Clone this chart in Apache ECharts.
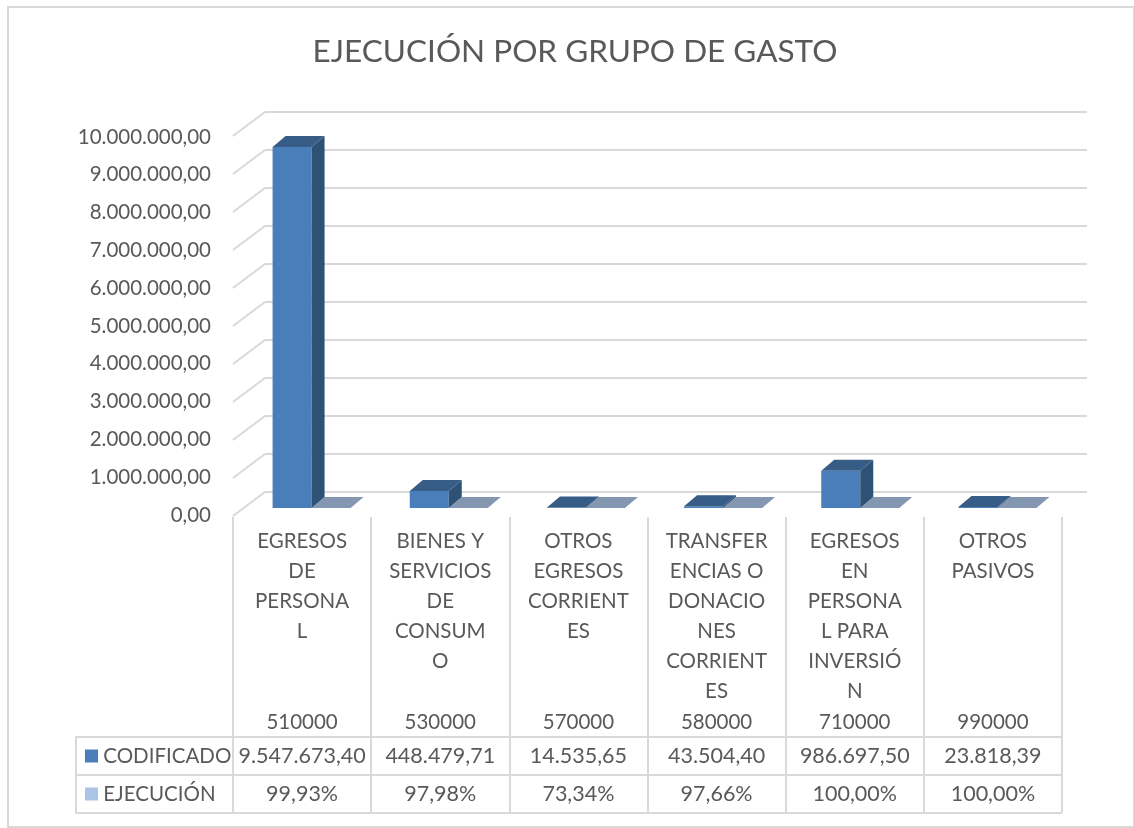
<!DOCTYPE html>
<html>
<head>
<meta charset="utf-8">
<script src="https://cdn.jsdelivr.net/npm/echarts@6/dist/echarts.min.js"></script>
<style>
  html, body { margin: 0; padding: 0; background: #fff; }
  #chart { position: absolute; left: 0; top: 0; width: 1134px; height: 828px; }
  #frame { position: absolute; left: 7px; top: 6px; width: 1124px; height: 818px; border: 2px solid #d9d9d9; pointer-events: none; }
</style>
</head>
<body>
<div id="chart"></div>
<div id="frame"></div>
<script>
// datos de la tabla
const categorias = [
  'EGRESOS\nDE\nPERSONA\nL',
  'BIENES Y\nSERVICIOS\nDE\nCONSUM\nO',
  'OTROS\nEGRESOS\nCORRIENT\nES',
  'TRANSFER\nENCIAS O\nDONACIO\nNES\nCORRIENT\nES',
  'EGRESOS\nEN\nPERSONA\nL PARA\nINVERSIÓ\nN',
  'OTROS\nPASIVOS'
];
const codigos = ['510000', '530000', '570000', '580000', '710000', '990000'];
const codificado = [9547673.40, 448479.71, 14535.65, 43504.40, 986697.50, 23818.39];
const ejecucion = [99.93, 97.98, 73.34, 97.66, 100.00, 100.00]; // en %
const yTicks = [0, 1000000, 2000000, 3000000, 4000000, 5000000, 6000000, 7000000, 8000000, 9000000, 10000000];
const filas = ['CODIFICADO', 'EJECUCIÓN'];

const FONT = 'Lato, "Open Sans", sans-serif';
const GRIS = '#595959';
const LINEA = '#d9d9d9';

// formato es-EC: 1.234.567,89
const fmt = (v, d) => {
  const parts = v.toFixed(d).split('.');
  parts[0] = parts[0].replace(/\B(?=(\d{3})+(?!\d))/g, '.');
  return parts.join(',');
};

const chart = echarts.init(document.getElementById('chart'));

// barra 3D: cara frontal, lateral y superior
const barra3d = (lado, cFrente, cLado, cArriba) => (params, api) => {
  const idx = api.value(0);
  const v = api.value(1);
  const base = api.coord([idx, 0]);
  const top = api.coord([idx, v]);
  const w = 39, dx = 13, dy = -11;
  const x = lado === 0 ? base[0] - w : base[0];
  const h = Math.max(base[1] - top[1], 0);
  const y = base[1] - h;
  return {
    type: 'group',
    children: [
      { type: 'rect', shape: { x: x, y: y, width: w, height: h }, style: { fill: cFrente } },
      { type: 'polygon', shape: { points: [[x + w, y], [x + w + dx, y + dy], [x + w + dx, base[1] + dy], [x + w, base[1]]] }, style: { fill: cLado } },
      { type: 'polygon', shape: { points: [[x, y], [x + dx, y + dy], [x + w + dx, y + dy], [x + w, y]] }, style: { fill: cArriba } }
    ]
  };
};

const labelBase = { fontFamily: FONT, color: GRIS, fontSize: 20 };

const option = {
  backgroundColor: '#fff',
  animation: false,
  title: {
    text: 'EJECUCIÓN POR GRUPO DE GASTO',
    left: 570,
    textAlign: 'center',
    top: 31,
    textStyle: { fontFamily: FONT, fontSize: 31.5, fontWeight: 'normal', color: GRIS }
  },
  grid: [
    { left: 265, right: 47, top: 112, bottom: 336 },   // pared del fondo
    { left: 233, right: 72, top: 137, bottom: 313 },   // plano frontal (etiquetas)
    { left: 243, right: 68, top: 130, bottom: 320 },   // plano de las barras
    { left: 233, right: 72, top: 517, bottom: 15 },    // categorías y tabla
    { left: 76, right: 72, top: 737, bottom: 15 }      // encabezados de fila
  ],
  xAxis: [
    { gridIndex: 0, type: 'value', min: 0, max: 6, show: false },
    { gridIndex: 1, type: 'category', data: codigos, show: false },
    { gridIndex: 2, type: 'category', data: codigos, show: false },
    {
      gridIndex: 3, type: 'category', data: categorias, position: 'top', offset: -9,
      axisLine: { show: false }, axisTick: { show: false },
      splitLine: { show: true, lineStyle: { color: LINEA, width: 2 } },
      axisLabel: Object.assign({ interval: 0, margin: 0, verticalAlign: 'top', lineHeight: 30 }, labelBase, { fontSize: 20.5 })
    },
    {
      gridIndex: 3, type: 'category', data: codigos, position: 'top', offset: -205,
      axisLine: { show: false }, axisTick: { show: false },
      axisLabel: Object.assign({ interval: 0, margin: 0, verticalAlign: 'middle' }, labelBase, { fontSize: 20.5 })
    },
    {
      gridIndex: 3, type: 'category', data: codificado.map(v => fmt(v, 2)), position: 'top', offset: -239,
      axisLine: { show: false }, axisTick: { show: false },
      axisLabel: Object.assign({ interval: 0, margin: 0, verticalAlign: 'middle' }, labelBase, { fontSize: 21.5 })
    },
    {
      gridIndex: 3, type: 'category', data: ejecucion.map(v => fmt(v, 2) + '%'), position: 'top', offset: -277,
      axisLine: { show: false }, axisTick: { show: false },
      axisLabel: Object.assign({ interval: 0, margin: 0, verticalAlign: 'middle' }, labelBase, { fontSize: 21.5 })
    },
    { gridIndex: 4, type: 'value', show: false }
  ],
  yAxis: [
    {
      gridIndex: 0, type: 'value', min: 0, max: 10000000, interval: 1000000,
      axisLine: { show: false }, axisTick: { show: false }, axisLabel: { show: false },
      splitLine: { show: true, lineStyle: { color: LINEA, width: 2 } }
    },
    {
      gridIndex: 1, type: 'value', min: 0, max: 10000000, interval: 1000000,
      axisLine: { show: false }, axisTick: { show: false }, splitLine: { show: false },
      axisLabel: Object.assign({ margin: 22, formatter: v => fmt(v, 2) }, labelBase, { fontSize: 20.5 })
    },
    { gridIndex: 2, type: 'value', min: 0, max: 10000000, show: false },
    { gridIndex: 3, type: 'value', show: false },
    {
      gridIndex: 4, type: 'category', data: filas, inverse: true,
      axisLine: { show: true, lineStyle: { color: LINEA, width: 2 } },
      axisTick: { show: false },
      splitLine: { show: true, lineStyle: { color: LINEA, width: 2 } },
      axisLabel: {
        inside: true, margin: 9,
        formatter: (v, i) => '{sq' + i + '|}{t| ' + v + '}',
        rich: {
          sq0: { width: 13, height: 13, backgroundColor: '#4a7ebb' },
          sq1: { width: 13, height: 13, backgroundColor: '#a9c4e4' },
          t: { fontFamily: FONT, fontSize: 20.5, color: GRIS }
        }
      }
    }
  ],
  series: [
    {
      // líneas de la pared lateral
      type: 'custom', xAxisIndex: 0, yAxisIndex: 0, silent: true,
      data: yTicks.map(v => [0, v]),
      renderItem: (params, api) => {
        const p = api.coord([0, api.value(1)]);
        return { type: 'line', shape: { x1: p[0], y1: p[1], x2: p[0] - 32, y2: p[1] + 24 }, style: { stroke: LINEA, lineWidth: 2 } };
      }
    },
    {
      name: 'EJECUCIÓN', type: 'custom', xAxisIndex: 2, yAxisIndex: 2, silent: true,
      data: ejecucion.map((v, i) => [i, v / 100]),
      renderItem: barra3d(1, '#a9c4e4', '#6d7f96', '#8497b0')
    },
    {
      name: 'CODIFICADO', type: 'custom', xAxisIndex: 2, yAxisIndex: 2, silent: true,
      data: codificado.map((v, i) => [i, v]),
      renderItem: barra3d(0, '#4a7ebb', '#2e5276', '#375d87')
    }
  ]
};

chart.setOption(option);
</script>
</body>
</html>
